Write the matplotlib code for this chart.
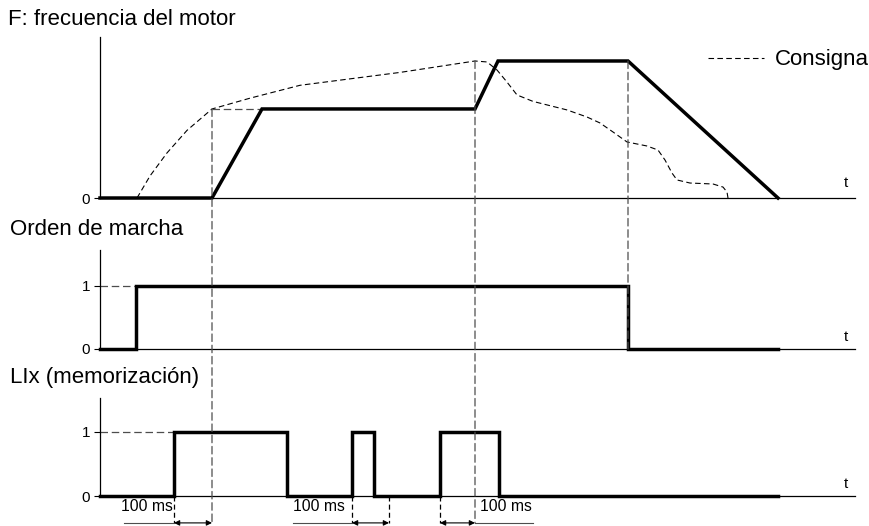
import matplotlib
matplotlib.use('Agg')
import matplotlib.pyplot as plt
from matplotlib.patches import ConnectionPatch

plt.rcParams['font.family'] = ['Liberation Sans', 'DejaVu Sans']

# Tiempo (unidades arbitrarias) y frecuencia del motor (fraccion de la escala)
motor_t = [0, 11.2, 16.2, 37.5, 39.8, 52.8, 67.8]
motor_f = [0, 0, 0.553, 0.553, 0.851, 0.851, 0]

# Consigna (linea discontinua)
consigna_t = [3.7, 5.0, 6.7, 8.7, 11.2, 15.0, 20.0, 30.0, 37.5, 38.7, 39.7, 40.7,
              41.7, 43.3, 46.7, 48.7, 50.0, 51.3, 52.7, 54.7, 55.8, 56.5, 57.2,
              57.7, 59.0, 61.3, 62.3, 62.7, 62.8]
consigna_f = [0, 0.137, 0.28, 0.42, 0.553, 0.62, 0.70, 0.78, 0.851, 0.845, 0.795, 0.72,
              0.64, 0.60, 0.547, 0.503, 0.466, 0.410, 0.348, 0.323, 0.298, 0.236, 0.155,
              0.112, 0.093, 0.087, 0.068, 0.037, 0]

# Orden de marcha
marcha_t = [0, 3.6, 52.8, 67.8]
marcha_v = [0, 1, 0, 0]

# LIx (memorizacion)
lix_t = [0, 7.4, 18.7, 25.2, 27.4, 34.0, 39.9, 67.8]
lix_v = [0, 1, 0, 1, 0, 1, 0, 0]

# cotas de 100 ms: (inicio, fin) y posicion del texto
cotas = [(7.4, 11.2), (25.2, 28.9), (34.0, 37.5)]
cota_lineas = [(2.4, 7.4), (19.3, 25.2), (37.5, 43.3)]
cota_texto = [2.1, 19.3, 38.0]

W, H = 869, 526
fig = plt.figure(figsize=(W / 100, H / 100), dpi=100)


def panel(top, base):
    return fig.add_axes([100 / W, (H - base) / H, 755 / W, (base - top) / H])


ax1 = panel(37, 198)
ax2 = panel(250, 349)
ax3 = panel(398, 496)

tmax = 75.5
for ax, ymax in [(ax1, 1.0), (ax2, 1.57), (ax3, 1.53)]:
    ax.set_xlim(0, tmax)
    ax.set_ylim(0, ymax)
    ax.patch.set_alpha(0)
    for s in ['top', 'right']:
        ax.spines[s].set_visible(False)
    ax.spines['left'].set_linewidth(0.9)
    ax.spines['bottom'].set_linewidth(0.9)
    ax.set_xticks([])
    ax.tick_params(axis='y', length=4, width=0.8, pad=3, labelsize=11)
    ax.text(74.6, 0.05 * ymax, 't', fontsize=11, ha='center', va='bottom')

ax1.set_yticks([0])
ax2.set_yticks([0, 1])
ax3.set_yticks([0, 1])

thick = dict(color='black', lw=2.5, clip_on=False, solid_joinstyle='miter', zorder=5)
gdash = dict(color='0.3', lw=0.9, linestyle=(0, (6, 3)), clip_on=False)

# panel superior
ax1.plot(motor_t, motor_f, **thick)
ax1.plot(consigna_t, consigna_f, color='black', lw=0.8, linestyle=(0, (5, 3)),
         clip_on=False, label='Consigna')
ax1.plot([motor_t[1], motor_t[2]], [motor_f[2], motor_f[2]], **gdash)
leg = ax1.legend(loc='center right', bbox_to_anchor=(869 / W, (H - 60) / H),
                 bbox_transform=fig.transFigure, frameon=False, fontsize=16,
                 handlelength=2.5, handletextpad=0.5, borderaxespad=0, borderpad=0)

# panel central
ax2.plot(marcha_t, marcha_v, drawstyle='steps-post', **thick)
ax2.plot([0, marcha_t[1]], [1, 1], **gdash)

# panel inferior
ax3.plot(lix_t, lix_v, drawstyle='steps-post', **thick)
ax3.plot([0, lix_t[1]], [1, 1], **gdash)

ybot = -0.42
for x in [lix_t[1], lix_t[3], cotas[1][1], lix_t[5]]:
    ax3.plot([x, x], [0, ybot], color='black', lw=0.9, linestyle=(0, (4, 2.5)),
             clip_on=False)

for (a, b), (la, lb), xt in zip(cotas, cota_lineas, cota_texto):
    ax3.annotate('', xy=(a, ybot), xytext=(b, ybot), annotation_clip=False,
                 arrowprops=dict(arrowstyle='<|-|>', mutation_scale=8, lw=0.8,
                                 color='black', shrinkA=0, shrinkB=0))
    ax3.plot([la, lb], [ybot, ybot], color='0.3', lw=0.8, clip_on=False)
    ax3.text(xt, -0.17, '100 ms', fontsize=11.3, ha='left', va='center')

# lineas verticales discontinuas entre paneles
for t, f, axb, yb in [(motor_t[1], motor_f[2], ax3, ybot),
                      (motor_t[3], motor_f[4], ax3, ybot),
                      (motor_t[5], motor_f[5], ax2, 0)]:
    con = ConnectionPatch(xyA=(t, f), coordsA='data', axesA=ax1,
                          xyB=(t, yb), coordsB='data', axesB=axb,
                          color='0.3', lw=0.9, linestyle=(0, (6, 3)), zorder=1)
    con.set_annotation_clip(False)
    fig.add_artist(con)

# titulos
fig.text(8 / W, 1 - 25 / H, 'F: frecuencia del motor', fontsize=16, va='baseline')
fig.text(10 / W, 1 - 235 / H, 'Orden de marcha', fontsize=16, va='baseline')
fig.text(10 / W, 1 - 383 / H, 'LIx (memorización)', fontsize=16, va='baseline')

fig.savefig('out.png', dpi=100)
